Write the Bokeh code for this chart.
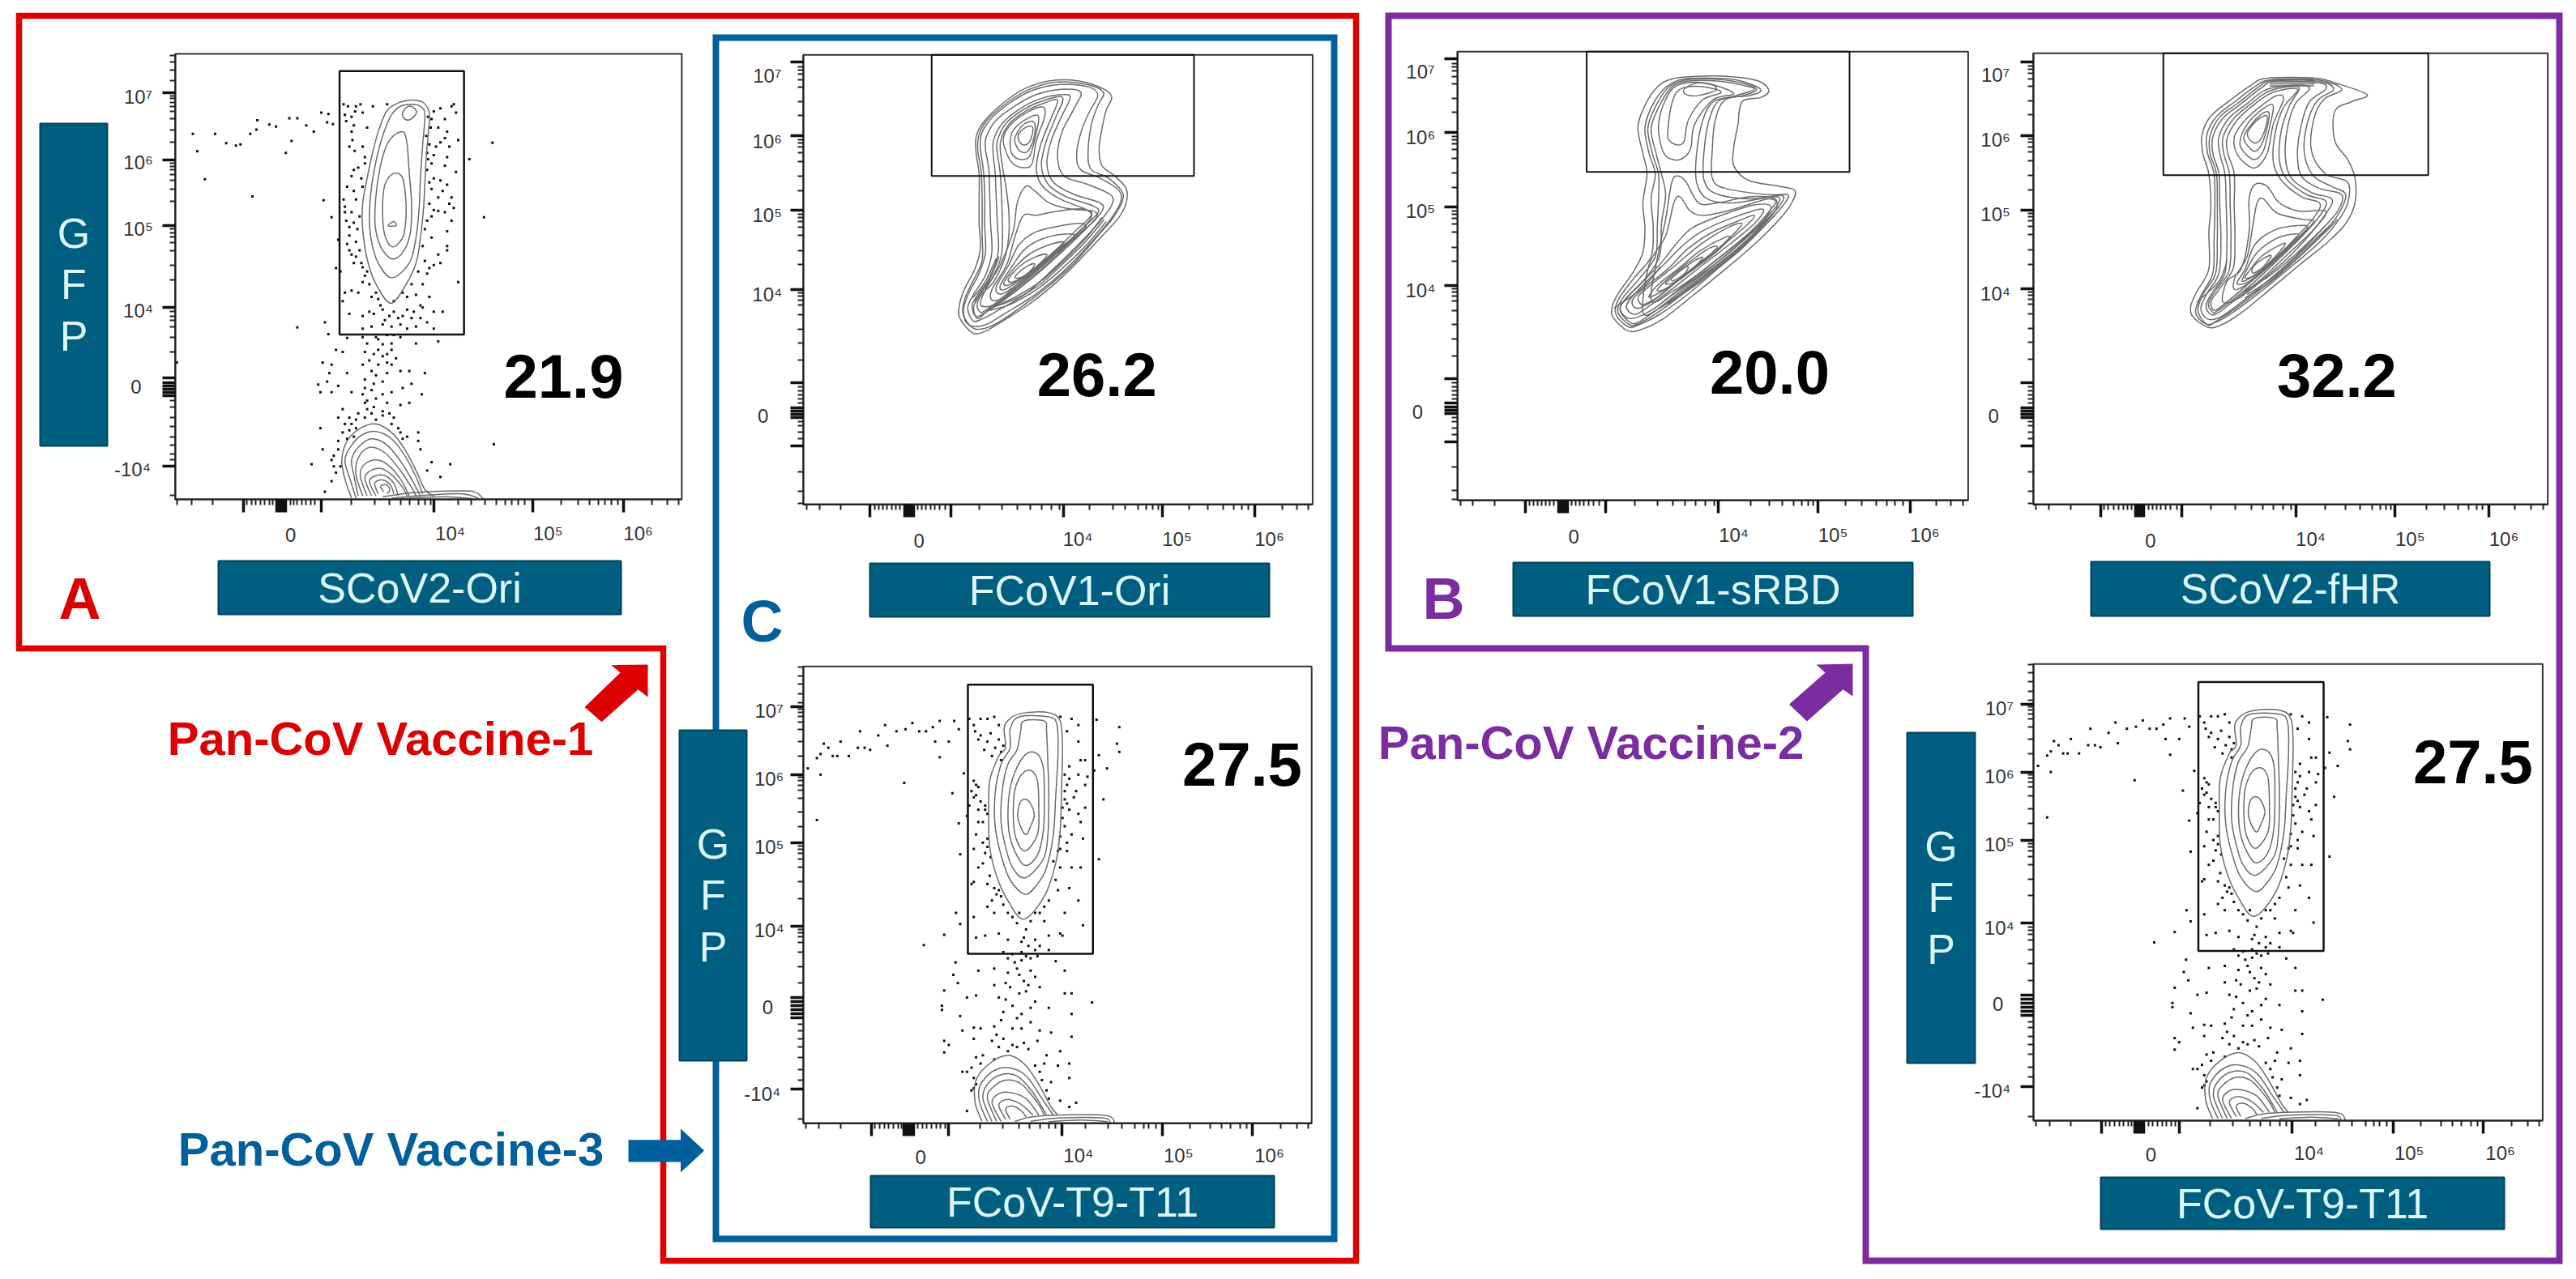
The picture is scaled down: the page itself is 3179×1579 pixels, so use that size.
from bokeh.plotting import figure
from bokeh.models import Range1d, LinearAxis, FixedTicker
from bokeh.core.properties import value
from bokeh.embed import file_html
from bokeh.resources import INLINE

# ---------- values (display channels of each cytometry plot) ----------
a_gate = (763, 1043, 789, 167)
ori_gate = (553, 1172, 425, 132)
srbd_gate = (544, 1180, 415, 124)
fhr_gate = (542, 1200, 423, 128)
t9_gate = (702, 977, 779, 127)

a_contours = [
 [(878,715),(845,670),(825,610),(815,540),(815,480),(825,420),(835,370),(850,310),(870,260),(900,240),(925,235),(950,240),(965,265),(963,310),(958,370),(955,430),(952,490),(945,560),(935,620),(910,675),(878,715)],
 [(880,655),(850,620),(835,570),(830,510),(835,440),(845,380),(860,320),(880,270),(900,250),(925,245),(945,250),(955,270),(950,340),(945,420),(942,490),(935,560),(920,620),(880,655)],
 [(880,610),(855,580),(843,530),(845,460),(855,390),(870,340),(890,315),(908,312),(915,340),(920,410),(925,480),(922,550),(905,595),(880,610)],
 [(882,582),(865,555),(860,510),(862,450),(872,420),(890,408),(905,420),(912,470),(912,520),(905,560),(882,582)],
 [(905,265),(918,250),(932,255),(935,268),(920,282),(908,278),(905,265)],
 [(872,532),(885,522),(890,532),(872,532)],
 [(790,1175),(775,1130),(768,1085),(780,1040),(810,1010),(845,1000),(880,1020),(910,1060),(935,1110),(955,1155),(975,1170)],
 [(800,1175),(785,1125),(775,1085),(790,1050),(815,1025),(845,1018),(880,1035),(910,1075),(935,1125),(950,1165)],
 [(805,1170),(795,1120),(790,1085),(805,1055),(835,1035),(870,1050),(905,1095),(930,1140),(945,1170)],
 [(815,1170),(800,1120),(805,1080),(830,1055),(865,1068),(900,1110),(925,1150),(935,1170)],
 [(825,1170),(810,1125),(815,1100),(840,1085),(870,1095),(900,1130),(920,1170)],
 [(835,1170),(820,1130),(830,1112),(855,1105),(880,1120),(905,1150),(915,1170)],
 [(845,1170),(830,1135),(845,1122),(865,1122),(885,1140),(895,1170)],
 [(850,1165),(842,1140),(860,1132),(878,1145),(885,1165)],
 [(862,1160),(855,1147),(868,1143),(876,1155),(870,1165)],
 [(860,1172),(930,1162),(1040,1158),(1070,1162),(1088,1178)],
 [(880,1175),(960,1168),(1040,1165),(1075,1175)],
 [(900,1176),(1000,1172),(1060,1176)],
]
a_dots = [(433,315),(483,315),(508,337),(530,343),(540,340),(562,315),(578,283),(576,305),(605,293),(620,298),(650,278),(668,278),(655,332),(642,360),(443,356),(460,422),(567,463),(688,295),(705,310),(722,265),(738,268),(735,288),(748,292),(727,472),(745,512),(668,772),(730,760),(738,788),(1107,336),(1088,512),(1055,375),(1110,1048),(397,855),
(772,245),(775,270),(778,285),(798,262),(810,245),(838,250),(870,245),(795,295),(790,310),(785,345),(797,355),(820,370),(795,400),(790,415),(815,440),(775,487),(800,470),(790,500),(778,520),(795,525),(803,540),(785,555),(760,565),(800,570),(785,590),(800,605),(812,620),(755,632),(765,640),(815,630),(825,640),(790,685),(815,665),(835,700),(850,705),(770,710),(785,740),(815,745),(840,740),(860,730),(885,735),(905,745),(925,750),(945,750),(975,735),(995,735),(815,775),(835,770),(860,765),(880,770),(900,765),(915,775),(935,770),(975,775),
(975,262),(990,255),(1020,245),(1025,265),(970,280),(985,300),(1005,310),(1000,325),(965,340),(980,345),(960,360),(975,365),(1005,370),(1030,330),(1025,405),(990,425),(1005,435),(970,445),(985,465),(1015,465),(1020,490),(965,480),(975,495),(985,497),(960,520),(1015,520),(1005,580),(1005,590),(950,580),(955,615),(975,625),(965,632),(990,620),(1030,665),(950,670),(965,700),(925,670),(935,695),(905,690),(885,710),
(780,797),(815,795),(825,810),(850,800),(870,790),(885,790),(900,795),(935,810),(985,805),(770,830),(755,825),(820,830),(840,835),(860,840),(880,825),(890,845),(870,855),(850,860),(745,860),(725,855),(740,880),(780,880),(845,885),(860,900),(900,875),(920,875),(955,880),(735,900),(715,907),(760,910),(790,925),(820,915),(845,940),(880,925),(905,915),(925,905),(948,930),(720,925),(745,925),(820,950),(825,965),(860,970),(900,955),(920,950),(885,985),(860,980),(770,965),(785,985),(760,985),(835,975),(790,1000),(800,1010),(770,1020),(720,1010),(895,1010),(915,1030),(940,1020),(760,1040),(780,1035),(725,1060),(745,1085),(700,1095),(755,1115),(745,1135),(730,1160),(945,1060),(970,1090),(1012,1095),(990,1125),(960,1110),(940,1040),
(782,250),(800,250),(790,275),(815,265),(825,300),(792,330),(815,345),(820,385),(805,395),(812,420),(780,440),(795,450),(772,470),(775,500),(808,510),(785,535),(780,575),(790,600),(808,590),(795,620),(820,650),(830,670),(805,690),(775,690),(845,690),(855,720),(830,735),(875,745),(865,755),(895,750),(915,730),(930,735),(950,725),
(962,275),(968,300),(1000,280),(1015,250),(958,320),(990,335),(1010,345),(962,375),(970,385),(1000,390),(960,400),(975,420),(965,430),(995,450),(1010,480),(1000,500),(970,510),(955,540),(1005,545),(970,560),(985,600),(960,645),(940,640),(915,700),(945,720),(960,760),
(845,795),(860,812),(880,810),(850,825),(830,850),(870,835),(815,860),(835,875),(880,860),(820,895),(840,905),(870,880),(815,930),(835,920),(860,930),(825,945),(840,960),(870,950),(805,975),(820,985),(845,990),(875,975),(800,990),(775,1000),(785,1015),(795,1030),(880,1000),(900,1020),(905,1035),(760,1060),(750,1075),(765,1100),(750,1100)]

t9_contours = [
 [(825,695),(790,650),(765,590),(750,520),(748,440),(750,360),(770,300),(785,280),(782,230),(800,205),(830,195),(880,195),(905,215),(910,280),(908,380),(905,480),(895,560),(870,640),(825,695)],
 [(828,635),(795,600),(775,540),(762,470),(762,390),(775,320),(795,280),(795,235),(815,205),(880,205),(898,225),(900,300),(895,400),(890,490),(875,570),(855,610),(828,635)],
 [(828,595),(800,570),(785,520),(775,460),(778,380),(790,320),(810,285),(818,240),(825,215),(870,215),(875,240),(878,320),(880,400),(878,490),(868,550),(828,595)],
 [(828,565),(805,530),(792,480),(792,400),(805,340),(830,295),(855,295),(868,330),(870,400),(868,480),(855,540),(828,565)],
 [(828,530),(808,500),(802,450),(805,385),(820,345),(840,335),(855,360),(858,430),(855,490),(828,530)],
 [(828,490),(812,450),(818,410),(835,408),(848,440),(840,470),(828,490)],
 [(733,1185),(718,1140),(720,1085),(750,1045),(790,1025),(825,1045),(855,1090),(885,1150),(900,1170)],
 [(745,1185),(728,1140),(728,1100),(755,1065),(790,1055),(830,1075),(865,1130),(890,1170)],
 [(755,1185),(735,1130),(745,1095),(775,1072),(810,1075),(845,1115),(875,1170)],
 [(765,1185),(745,1130),(755,1105),(785,1085),(820,1095),(855,1140),(870,1170)],
 [(775,1185),(755,1140),(770,1118),(795,1115),(830,1130),(858,1170)],
 [(785,1180),(770,1145),(790,1132),(820,1145),(845,1170)],
 [(795,1180),(785,1155),(800,1148),(820,1160),(830,1175)],
 [(805,1185),(860,1172),(1000,1170),(1025,1188)],
 [(840,1185),(900,1177),(1000,1177),(1015,1188)],
 [(880,1186),(950,1182),(1010,1186)],
]
t9_dots = [(350,330),(370,305),(378,295),(385,270),(395,280),(405,300),(415,300),(422,265),(440,300),(460,280),(465,240),(475,280),(487,285),(505,250),(520,225),(525,275),(545,240),(565,235),(580,220),(595,240),(610,240),(625,230),(640,215),(630,265),(660,265),(672,215),(682,235),(640,303),(378,345),(562,365),(370,455),(668,390),(682,463),(693,342),(685,538),(676,680),(685,707),(650,733),(605,758),
(705,210),(715,225),(730,210),(745,210),(760,205),(770,225),(725,260),(745,265),(770,260),(780,275),(755,300),(775,310),(715,360),(710,385),(725,375),(720,395),(740,420),(725,430),(745,440),(735,460),(700,445),(720,490),(735,510),(745,520),(715,525),(725,570),(735,560),(710,610),(750,590),(745,610),(765,635),(775,640),(715,690),(745,665),(760,680),(790,680),(810,705),(830,720),(860,680),(870,700),(720,740),(740,735),(770,730),(790,745),(820,750),(850,745),(880,735),(905,730),(780,775),(820,775),(850,770),(880,770),
(905,205),(930,210),(945,225),(920,240),(945,265),(985,212),(1035,230),(1030,270),(1035,290),(990,298),(950,310),(960,310),(925,325),(945,345),(965,350),(980,335),(1008,330),(920,370),(940,385),(915,405),(1000,405),(925,430),(960,425),(910,450),(950,460),(930,490),(955,500),(905,525),(920,510),(890,555),(930,570),(950,570),(990,550),(895,600),(925,620),(945,650),(915,680),(955,710),
(790,790),(805,800),(820,795),(840,790),(895,797),(675,800),(670,830),(725,820),(760,815),(790,825),(815,830),(840,820),(915,820),(680,850),(700,885),(760,855),(785,850),(835,855),(860,860),(650,868),(645,905),(645,915),(720,880),(785,890),(830,870),(915,875),(930,875),(975,897),(880,910),(685,930),(780,920),(810,935),(840,945),(930,925),(690,965),(715,958),(765,975),(800,960),(860,965),(885,970),(650,990),(660,1000),(650,1018),(715,985),(755,990),(810,1005),(825,995),(855,990),(905,1015),(930,980),(720,1030),(700,1065),(875,1025),(870,1045),(900,1050),(925,1045),(690,1065),(715,1105),(710,1110),(865,1085),(925,1080),(700,1160),(880,1130),(905,1135),(940,1140),(925,1150),
(718,240),(730,250),(752,245),(762,280),(775,290),(738,285),(720,370),(715,400),(730,410),(740,430),(705,420),(725,460),(745,500),(740,535),(752,545),(715,605),(760,620),(770,625),(755,650),(780,660),(800,690),(815,680),(840,700),(850,680),(825,740),(835,760),(860,760),(910,735),
(915,345),(925,355),(915,385),(920,415),(910,425),(935,400),(960,370),(945,440),(915,470),(905,495),(900,530),(920,530),(905,570),(900,625),(880,650),(870,665),
(800,780),(830,785),(855,785),(810,815),(825,845),(850,835),(795,860),(815,875),(770,885),(850,895),(800,905),(840,910),(820,925),(775,940),(760,955),(820,960),(730,960),(780,985),(800,1000),(770,1005),(835,1010),(735,1025),(760,1035),(790,1015),(730,1045),(710,1055),(715,1080),(720,1095),(850,1050),(860,1065),(875,1110),(885,1090)]

ori_contours = [
 [(650,805),(620,770),(618,740),(630,700),(655,650),(668,600),(665,540),(665,480),(665,420),(658,370),(658,330),(675,295),(720,250),(770,215),(830,195),(900,195),(960,215),(978,235),(965,265),(955,310),(948,360),(955,400),(985,425),(1012,455),(1012,490),(995,525),(960,565),(900,630),(850,680),(790,730),(730,770),(680,800),(650,805)],
 [(655,795),(628,762),(630,725),(650,680),(672,630),(672,560),(672,480),(670,415),(662,365),(664,328),(682,292),(728,250),(780,217),(845,198),(912,202),(958,222),(945,255),(930,300),(922,370),(930,410),(970,430),(1005,470),(985,520),(945,570),(885,640),(825,695),(760,745),(700,785),(655,795)],
 [(640,785),(628,750),(640,710),(665,660),(680,610),(678,540),(678,470),(675,410),(668,360),(670,325),(690,290),(735,250),(790,218),(860,203),(925,210),(945,230),(925,270),(905,320),(895,375),(905,410),(950,430),(995,460),(998,490),(975,530),(930,585),(870,650),(800,710),(730,755),(680,785),(640,785)],
 [(650,775),(638,745),(650,715),(680,665),(695,610),(692,540),(690,470),(688,410),(680,360),(682,330),(705,290),(750,255),(800,228),(860,215),(905,222),(890,260),(860,320),(850,380),(865,425),(920,445),(975,470),(978,495),(950,535),(900,590),(840,650),(775,710),(710,750),(670,772),(650,775)],
 [(660,765),(648,740),(660,715),(690,670),(710,610),(708,540),(705,470),(703,420),(698,370),(700,335),(722,295),(765,260),(810,238),(860,228),(880,235),(860,280),(835,340),(825,395),(840,440),(890,470),(950,490),(955,510),(920,550),(870,600),(810,655),(750,705),(695,745),(660,765)],
 [(662,770),(652,742),(668,710),(698,668),(718,615),(720,545),(718,480),(715,420),(708,370),(708,340),(728,298),(770,264),(815,243),(862,235),(845,285),(822,345),(812,400),(828,445),(870,475),(935,498),(945,515),(905,555),(855,605),(798,658),(738,710),(688,748),(662,770)],
 [(668,755),(660,735),(672,710),(700,680),(725,625),(735,570),(735,510),(728,450),(720,400),(715,345),(735,300),(775,268),(820,248),(850,242),(835,285),(810,350),(800,410),(815,450),(855,480),(915,505),(930,520),(890,560),(840,610),(785,660),(725,715),(680,750),(668,755)],
 [(730,370),(722,335),(740,300),(780,270),(815,258),(820,280),(800,340),(790,395),(770,405),(745,395),(730,370)],
 [(738,350),(745,315),(780,285),(805,280),(800,320),(785,375),(765,385),(745,375),(738,350)],
 [(750,330),(770,300),(795,295),(795,330),(780,365),(762,365),(750,345),(750,330)],
 [(760,320),(780,305),(792,310),(785,340),(770,350),(758,338),(760,320)],
 [(680,700),(715,640),(745,560),(755,490),(775,450),(795,460),(830,490),(880,505),(935,510),(940,530),(900,565),(850,615),(790,670),(730,720),(690,740),(668,735),(680,700)],
 [(695,700),(730,640),(750,570),(770,520),(800,520),(850,510),(910,505),(930,525),(890,570),(830,625),(770,680),(720,720),(695,725),(695,700)],
 [(705,695),(735,640),(760,590),(800,560),(860,545),(905,540),(915,550),(880,585),(820,635),(765,680),(720,710),(705,695)],
 [(715,690),(745,640),(775,600),(820,575),(875,565),(890,572),(860,595),(810,640),(765,675),(725,700),(715,690)],
 [(725,680),(755,640),(790,610),(835,590),(865,585),(845,605),(800,645),(760,675),(730,690),(725,680)],
 [(735,672),(765,640),(800,620),(825,615),(810,635),(775,665),(742,682),(735,672)],
 [(752,665),(775,645),(795,637),(790,650),(770,668),(752,672),(752,665)],
 [(690,750),(740,735),(800,700),(860,650),(920,590),(965,535)],
 [(690,745),(745,725),(805,690),(860,640),(915,585),(960,530)],
 [(700,742),(750,718),(810,680),(865,630),(915,578),(955,525)],
 [(650,720),(680,680),(705,625)],
 [(655,728),(690,675),(712,620)],
]
srbd_contours = [
 [(645,800),(610,770),(605,745),(620,710),(655,660),(680,610),(685,550),(680,490),(690,420),(680,370),(668,310),(680,265),(710,215),(750,190),(830,183),(900,185),(960,195),(985,218),(965,235),(920,245),(910,300),(900,355),(900,400),(935,435),(1010,450),(1048,460),(1040,490),(1010,530),(950,590),(880,650),(800,715),(730,770),(680,795),(645,800)],
 [(645,790),(615,760),(620,725),(660,670),(700,620),(705,550),(700,480),(710,420),(695,370),(685,310),(700,260),(730,215),(770,192),(830,188),(905,192),(965,215),(940,230),(880,240),(855,290),(848,360),(848,430),(880,455),(980,470),(1030,470),(1020,495),(980,540),(920,600),(860,650),(790,710),(720,760),(670,785),(645,790)],
 [(648,785),(620,755),(630,722),(670,675),(710,620),(715,545),(718,475),(718,420),(703,370),(692,310),(710,258),(740,212),(780,193),(845,190),(910,198),(955,215),(920,231),(865,242),(840,290),(828,365),(828,435),(858,468),(940,480),(1015,472),(1012,495),(970,542),(910,600),(850,650),(780,708),(712,758),(670,782),(648,785)],
 [(650,780),(625,750),(640,720),(680,680),(720,620),(725,540),(735,470),(725,420),(712,370),(700,310),(720,255),(750,210),(790,195),(860,195),(920,205),(950,215),(900,232),(850,245),(825,290),(810,370),(810,440),(835,480),(900,490),(1000,475),(1005,495),(960,545),(900,600),(840,650),(770,705),(705,755),(670,778),(650,780)],
 [(725,355),(718,300),(735,240),(765,205),(830,200),(900,225),(850,240),(805,300),(795,360),(770,385),(740,380),(725,355)],
 [(740,320),(750,250),(770,215),(820,208),(870,222),(825,240),(790,290),(780,340),(765,350),(745,340),(740,320)],
 [(780,215),(810,200),(850,205),(855,218),(815,230),(785,228),(780,215)],
 [(720,600),(735,530),(750,440),(765,425),(785,440),(815,490),(860,490),(940,475),(1000,480),(990,505),(940,560),(880,610),(810,665),(750,705),(700,725),(720,600)],
 [(695,640),(735,570),(755,490),(770,475),(795,510),(830,520),(900,505),(985,480),(1005,500),(970,545),(910,600),(840,655),(770,710),(720,745),(680,755),(695,640)],
 [(650,770),(625,745),(650,710),(720,640),(760,590),(800,550),(870,520),(950,495),(990,500),(960,545),(900,595),(830,650),(760,705),(700,750),(650,770)],
 [(660,760),(640,740),(665,705),(730,640),(780,590),(830,555),(900,525),(970,505),(950,540),(890,590),(825,640),(755,695),(695,740),(660,760)],
 [(665,745),(655,725),(690,690),(740,650),(790,600),(850,560),(920,530),(950,520),(930,545),(870,595),(810,640),(750,690),(700,730),(665,745)],
 [(675,735),(670,715),(710,680),(760,640),(820,590),(885,550),(920,540),(895,570),(840,620),(780,665),(720,715),(685,735),(675,735)],
 [(695,715),(720,685),(765,650),(820,605),(875,575),(890,575),(850,615),(790,660),(740,695),(705,715),(695,715)],
 [(715,700),(745,670),(790,635),(840,600),(860,598),(825,630),(770,675),(730,700),(715,700)],
 [(735,685),(770,655),(805,630),(825,622),(800,650),(760,680),(735,685)],
 [(750,672),(775,650),(790,645),(780,662),(755,678),(750,672)],
 [(610,745),(680,695),(722,645)],
 [(740,735),(820,680),(900,615),(1000,520)],
 [(730,728),(810,670),(890,610),(985,525)],
 [(745,728),(825,672),(905,608),(995,515)],
]
fhr_contours = [
 [(650,790),(615,765),(610,740),(625,705),(655,650),(655,560),(660,500),(655,420),(640,370),(638,325),(660,280),(710,240),(760,205),(800,188),(920,188),(970,200),(1048,228),(1010,245),(968,268),(968,340),(1000,385),(1018,430),(1018,490),(995,540),(950,585),(880,640),(800,705),(730,760),(680,788),(650,790)],
 [(652,785),(628,752),(640,712),(672,660),(676,580),(676,490),(674,420),(658,370),(658,328),(682,282),(728,248),(778,210),(815,193),(928,196),(965,215),(925,242),(900,295),(892,368),(915,425),(960,450),(995,470),(975,520),(930,572),(868,630),(795,690),(722,745),(675,775),(652,785)],
 [(645,782),(622,755),(635,715),(665,660),(668,580),(670,490),(668,420),(652,370),(650,325),(675,280),(720,245),(770,208),(810,192),(925,192),(985,215),(940,240),(915,290),(910,365),(945,420),(1000,440),(1000,490),(975,535),(930,585),(865,640),(790,700),(715,755),(670,780),(645,782)],
 [(650,770),(635,745),(650,710),(680,660),(685,580),(682,490),(680,420),(665,370),(665,330),(690,285),(735,250),(785,212),(820,195),(930,200),(945,215),(905,245),(885,300),(875,370),(885,425),(930,455),(985,470),(975,510),(930,560),(870,620),(800,680),(730,735),(680,768),(650,770)],
 [(660,760),(648,738),(665,705),(695,660),(700,580),(698,490),(695,420),(682,370),(680,330),(705,285),(750,250),(800,215),(880,205),(905,215),(870,250),(850,310),(845,380),(860,430),(910,465),(960,480),(950,510),(910,560),(850,615),(785,675),(720,725),(680,755),(660,760)],
 [(665,755),(654,734),(672,702),(705,655),(710,580),(708,495),(706,420),(692,370),(690,332),(715,288),(760,250),(808,218),(878,210),(855,255),(835,315),(830,385),(848,432),(898,470),(945,485),(935,515),(895,562),(835,620),(772,678),(710,728),(675,752),(665,755)],
 [(670,750),(660,730),(680,700),(715,650),(720,580),(718,500),(718,420),(702,370),(700,335),(725,290),(770,250),(815,222),(875,215),(840,260),(820,320),(815,390),(835,435),(885,475),(930,490),(920,520),(880,565),(820,625),(760,680),(700,730),(670,750)],
 [(720,360),(720,325),(745,290),(785,255),(825,230),(840,240),(815,300),(800,370),(770,405),(740,390),(720,360)],
 [(732,345),(750,300),(790,262),(815,255),(805,310),(790,365),(768,385),(745,370),(732,345)],
 [(742,330),(765,295),(795,270),(805,280),(790,340),(770,365),(750,350),(742,330)],
 [(752,318),(775,290),(800,280),(790,325),(772,345),(755,335),(752,318)],
 [(735,650),(755,560),(755,480),(770,445),(800,450),(830,490),(880,510),(945,510),(920,550),(860,615),(790,675),(730,720),(690,730),(700,680),(735,650)],
 [(750,620),(765,540),(775,490),(790,480),(825,515),(890,530),(915,535),(880,575),(820,630),(760,680),(720,700),(720,670),(750,620)],
 [(745,650),(770,590),(820,555),(875,545),(900,550),(860,590),(805,640),(755,680),(725,685),(745,650)],
 [(745,660),(775,610),(825,575),(870,565),(875,572),(830,615),(775,660),(740,680),(745,660)],
 [(755,655),(785,620),(825,595),(845,590),(810,630),(770,665),(745,672),(755,655)],
 [(765,645),(790,625),(810,618),(790,645),(765,660),(765,645)],
 [(625,730),(680,680),(700,630)],
 [(745,720),(810,680),(880,620),(950,555),(975,530)],
 [(740,705),(800,670),(870,615),(940,550)],
 [(750,712),(812,672),(882,612),(955,545)],
 [(810,192),(915,192)],[(808,197),(918,197)],[(806,202),(918,202)],[(806,207),(916,207)],
]

a_x_major = [547,622,627,632,637,642,722,975,1197,1402]
a_x_minor = [397,430,478,555,565,575,585,595,605,612,652,660,668,678,688,698,708,790,843,875,900,920,940,955,968,1030,1060,1090,1115,1135,1150,1165,1180,1262,1300,1325,1345,1360,1375,1390,1465,1500,1525]
a_y_major = [218,376,532,725,892,902,910,918,926,934,1100]
a_y_minor = [130,145,165,190,225,232,240,250,262,280,305,335,385,392,400,412,425,445,475,540,548,558,572,590,625,660,735,745,755,770,795,830,945,960,985,1005,1030,1050,1070,1085,1168]
ori_x_major = [408,490,495,500,505,510,598,865,1097,1315]
ori_x_minor = [258,288,338,418,428,438,448,458,468,478,520,530,540,550,560,572,585,665,718,755,785,812,835,855,925,980,1010,1040,1060,1075,1088,1160,1205,1240,1265,1285,1300,1380,1415,1442]
ori_y_major = [150,328,508,700,925,985,993,1001,1009,1078]
ori_y_minor = [160,168,178,192,210,245,278,337,345,355,368,390,425,460,517,525,535,548,568,605,640,708,716,725,738,760,795,830,870,935,945,955,965,975,1020,1030,1045,1060,1140,1187,1218]
srbd_x_major = [395,477,482,487,492,497,590,862,1103,1327]
srbd_x_minor = [240,268,322,405,415,425,435,445,455,465,507,517,527,537,548,560,575,660,715,752,782,808,832,852,940,985,1018,1045,1065,1080,1092,1170,1210,1245,1270,1290,1310,1390,1425,1455]
srbd_y_major = [142,320,500,690,915,975,983,991,999,1068]
srbd_y_minor = [152,160,170,184,202,237,270,329,337,347,360,382,417,452,509,517,527,540,560,597,632,698,706,715,728,750,785,820,860,925,935,945,955,965,1010,1020,1035,1050,1130,1185,1208]
fhr_x_major = [387,473,478,483,488,493,587,872,1118,1350]
fhr_x_minor = [225,258,312,395,405,418,430,442,452,462,505,515,525,535,548,560,575,660,720,760,790,815,840,860,945,995,1030,1060,1080,1095,1108,1195,1240,1275,1300,1320,1335,1415,1455,1485]
fhr_y_major = [148,327,507,698,925,985,993,1001,1009,1078]
fhr_y_minor = [158,166,176,190,208,243,276,336,344,354,367,389,424,459,516,524,534,547,567,604,639,706,714,723,736,758,793,828,868,935,945,955,965,975,1020,1030,1045,1060,1140,1188,1218]
t9_x_major = [490,562,567,572,577,582,660,908,1130,1328]
t9_x_minor = [345,375,422,498,508,518,528,538,548,556,592,602,612,622,632,642,652,728,778,815,838,860,880,895,960,1010,1040,1070,1088,1100,1115,1190,1235,1260,1280,1300,1315,1390,1425,1450]
t9_y_major = [180,345,510,712,885,895,905,915,925,935,1107]
t9_y_minor = [85,105,125,150,170,187,195,205,217,235,265,300,352,360,370,382,402,435,470,518,526,536,550,570,605,645,720,728,738,752,775,810,850,950,965,985,1005,1030,1060,1085,1180]

x_tick_labels = ["0", "10⁴", "10⁵", "10⁶"]
y_tick_labels_top = ["10⁷", "10⁶", "10⁵", "10⁴", "0"]
y_tick_labels_full = ["10⁷", "10⁶", "10⁵", "10⁴", "0", "-10⁴"]

panel_values = ["21.9", "26.2", "20.0", "32.2", "27.5", "27.5"]
x_titles = ["SCoV2-Ori", "FCoV1-Ori", "FCoV1-sRBD", "SCoV2-fHR", "FCoV-T9-T11", "FCoV-T9-T11"]
vaccines = ["Pan-CoV Vaccine-1", "Pan-CoV Vaccine-2", "Pan-CoV Vaccine-3"]

# ---------- layout ----------
W, H = 3163, 1563
RED, BLUE, PURPLE, TEAL = "#dc0000", "#00609c", "#7b2ca0", "#005f80"
SANS = "Liberation Sans"

p = figure(width=W, height=H, x_range=Range1d(0, W), y_range=Range1d(H, 0),
           x_axis_type=None, y_axis_type=None, output_backend="svg", toolbar_location=None,
           min_border=0, outline_line_color=None, background_fill_color="white", border_fill_color="white")
p.grid.visible = False

# outer frames
p.patch([23,1673,1673,818,818,23,23],[19,19,1556,1556,800,800,19], fill_color=None, line_color=RED, line_width=7.5, line_join="miter")
p.patch([883,1646,1646,883,883],[46,46,1529,1529,46], fill_color=None, line_color=BLUE, line_width=8, line_join="miter")
p.patch([1713,3158,3158,2302,2302,1713,1713],[19,19,1556,1556,800,800,19], fill_color=None, line_color=PURPLE, line_width=8, line_join="miter")

def banner(l, r, t, b, txt, size="52px", lh=1.0):
    p.quad(left=[l], right=[r], top=[t], bottom=[b], fill_color=TEAL, line_color="#00455e", line_width=2)
    p.text([(l+r)/2], [(t+b)/2], text=[txt], text_color="#dcf5f8", text_font=value(SANS), text_font_size=size,
           text_align="center", text_baseline="middle", text_line_height=lh)

def curve_pieces(contours):
    # each contour is drawn as a smooth curve running through the points
    out = [[] for _ in range(8)]
    for c in contours:
        closed = c[0] == c[-1] and len(c) > 3
        n = len(c)
        for i in range(n - 1):
            a, b = c[i], c[i + 1]
            if closed:
                z, d = c[i - 1] if i > 0 else c[-2], c[i + 2] if i + 2 < n else c[1]
            else:
                z, d = c[max(i - 1, 0)], c[min(i + 2, n - 1)]
            vals = [a[0], a[1], b[0], b[1], a[0] + (b[0] - z[0]) / 6, a[1] + (b[1] - z[1]) / 6,
                    b[0] - (d[0] - a[0]) / 6, b[1] - (d[1] - a[1]) / 6]
            for k, v in enumerate(vals):
                out[k].append(v)
    return out

def add_panel(name, box, frame, gate, contours, dots, xmaj, xmin, ymaj, ymin, xlab, ylab, ylabels, val, val_pos, gate_w=2.5):
    L, T, R, B = box
    dx0, dx1, dyb, dyt = frame
    sx = (dx1 - dx0) / (R - L)
    sy = (dyb - dyt) / (B - T)
    xn, yn = "x_" + name, "y_" + name
    p.extra_x_ranges[xn] = Range1d(dx0 + (0 - L) * sx, dx0 + (W - L) * sx)
    p.extra_y_ranges[yn] = Range1d(dyt + (H - T) * sy, dyt + (0 - T) * sy)
    kw = dict(x_range_name=xn, y_range_name=yn)
    if dots:
        p.scatter([d[0] for d in dots], [d[1] for d in dots], marker="square", size=3, color="#111111", line_width=0, **kw)
    q = curve_pieces(contours)
    p.bezier(x0=q[0], y0=q[1], x1=q[2], y1=q[3], cx0=q[4], cy0=q[5], cx1=q[6], cy1=q[7], line_color="#6a6a6a", line_width=1.5, **kw)
    p.quad(left=[dx0], right=[dx1], bottom=[dyb], top=[dyt], fill_color=None, line_color="#333333", line_width=2, **kw)
    p.quad(left=[gate[0]], right=[gate[1]], bottom=[gate[2]], top=[gate[3]], fill_color=None, line_color="#111111", line_width=gate_w, **kw)
    common = dict(axis_line_color="#222222", axis_line_width=2, major_tick_line_color="#111111", minor_tick_line_color="#222222",
                  major_tick_line_width=3.5, minor_tick_line_width=2, major_tick_in=0, minor_tick_in=0,
                  major_tick_out=16, minor_tick_out=7, major_label_text_color=None, **kw)
    p.add_layout(LinearAxis(ticker=FixedTicker(ticks=xmaj, minor_ticks=xmin), fixed_location=dyb, bounds=(dx0, dx1), **common), "below")
    p.add_layout(LinearAxis(ticker=FixedTicker(ticks=ymaj, minor_ticks=ymin), fixed_location=dx0, bounds=(dyt, dyb), **common), "left")
    tick = dict(text_color="#333333", text_font=value(SANS), text_font_size="24px", text_align="center", text_baseline="middle", **kw)
    p.text([t[0] for t in xlab], [t[1] for t in xlab], text=x_tick_labels, **tick)
    p.text([t[0] for t in ylab], [t[1] for t in ylab], text=ylabels, **tick)
    p.text([val_pos[0]], [val_pos[1]], text=[val], text_color="#000000", text_font=value(SANS), text_font_style="bold",
           text_font_size="76px", text_align="center", text_baseline="middle", **kw)

add_panel("a", (215.6,65.9,840.9,616), (393,1533,1178,126), a_gate, a_contours, a_dots, a_x_major, a_x_minor, a_y_major, a_y_minor,
          [(653,1262),(1012,1258),(1232,1258),(1435,1258)], [(310,228),(310,382),(310,540),(310,732),(305,912),(297,1108)], y_tick_labels_full, panel_values[0], (1267,888))
add_panel("ori", (990.8,67.3,1619.4,622.4), (250,1452,1220,132), ori_gate, ori_contours, [], ori_x_major, ori_x_minor, ori_y_major, ori_y_minor,
          [(523,1308),(898,1303),(1132,1303),(1350,1303)], [(165,182),(165,342),(165,520),(165,712),(155,1005)], y_tick_labels_top, panel_values[1], (943,905), 2)
add_panel("srbd", (1798.4,63.3,2428.4,617.3), (232,1467,1210,124), srbd_gate, srbd_contours, [], srbd_x_major, srbd_x_minor, srbd_y_major, srbd_y_minor,
          [(513,1297),(900,1293),(1140,1293),(1362,1293)], [(142,172),(142,332),(142,510),(142,702),(135,995)], y_tick_labels_top, panel_values[2], (987,900), 2)
add_panel("fhr", (2508.8,65.3,3143.7,622.4), (219,1497,1220,128), fhr_gate, fhr_contours, [], fhr_x_major, fhr_x_minor, fhr_y_major, fhr_y_minor,
          [(510,1307),(908,1303),(1155,1303),(1388,1303)], [(125,180),(125,338),(125,518),(125,710),(120,1005)], y_tick_labels_top, panel_values[3], (973,908), 2)
t9_xlab = [(598,1272),(945,1268),(1165,1268),(1365,1268)]
t9_ylab = [(265,190),(265,355),(265,520),(265,722),(262,908),(250,1118)]
add_panel("t9m", (990.8,822.3,1618.2,1386.4), (340,1458,1190,83), t9_gate, t9_contours, t9_dots, t9_x_major, t9_x_minor, t9_y_major, t9_y_minor,
          t9_xlab, t9_ylab, y_tick_labels_full, panel_values[4], (1305,320))
add_panel("t9r", (2509,819.2,3137.4,1382.9), (340,1458,1190,83), t9_gate, t9_contours, t9_dots, t9_x_major, t9_x_minor, t9_y_major, t9_y_minor,
          t9_xlab, t9_ylab, y_tick_labels_full, panel_values[5], (1305,320))

# banners
gfp = "G\nF\nP"
banner(49, 132, 152, 550, gfp, "52px", 1.1)
banner(838, 921, 901, 1309, gfp, "52px", 1.1)
banner(2353, 2437, 904, 1312, gfp, "52px", 1.1)
banner(269, 766, 692, 758, x_titles[0])
banner(1073, 1566, 695, 761, x_titles[1])
banner(1867, 2360, 694, 760, x_titles[2])
banner(2580, 3072, 693, 760, x_titles[3])
banner(1074, 1572, 1451, 1515, x_titles[4])
banner(2592, 3090, 1453, 1517, x_titles[5])

# arrows
p.patch([721,765,754,799,799,787,742],[872.6,830,820.7,820,860,850.7,890.7], fill_color=RED, line_color=None)
p.patch([2207.5,2252,2241,2286,2286,2274,2229.4],[869,830,820,819,859,850.7,890], fill_color=PURPLE, line_color=None)
p.patch([775,839.5,839.5,868.6,839.5,839.5,775],[1406.7,1406.7,1393,1420,1447,1434,1434], fill_color=BLUE, line_color=None)

# labels
for txt, x, y, col in [(vaccines[0], 469, 911, RED), (vaccines[1], 1963, 916, PURPLE), (vaccines[2], 482, 1418, BLUE)]:
    p.text([x], [y], text=[txt], text_color=col, text_font=value(SANS), text_font_style="bold", text_font_size="58px",
           text_align="center", text_baseline="middle")
for txt, x, y, col in [("A", 98, 738, RED), ("B", 1781, 738, PURPLE), ("C", 940, 766, BLUE)]:
    p.text([x], [y], text=[txt], text_color=col, text_font=value(SANS), text_font_style="bold", text_font_size="72px",
           text_align="center", text_baseline="middle")

open("out.html", "w").write(file_html(p, INLINE))
